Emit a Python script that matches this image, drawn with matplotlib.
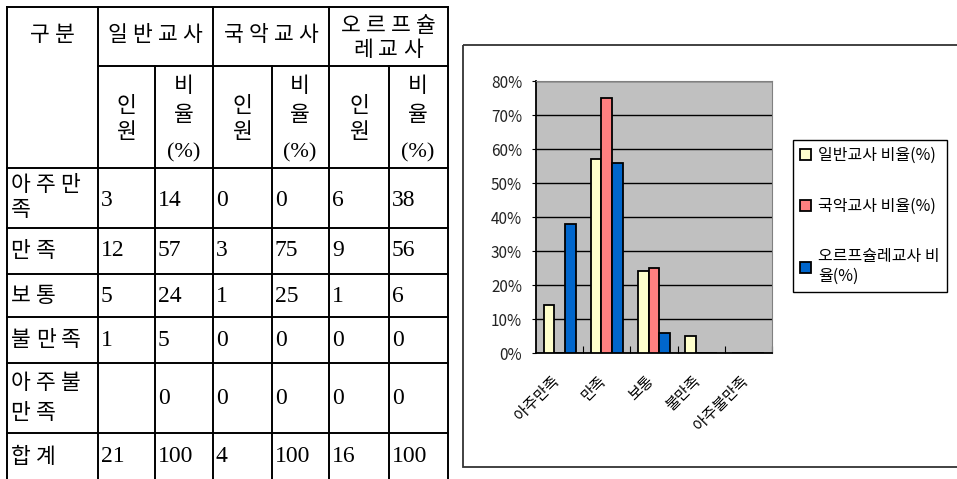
import matplotlib.pyplot as plt
import matplotlib.transforms as mtransforms
from matplotlib.patches import Rectangle
from matplotlib.ticker import PercentFormatter, FixedLocator

plt.rcParams['font.family'] = ['Noto Sans CJK KR', 'DejaVu Sans']

# chart data
categories = ["아주만족", "만족", "보통", "불만족", "아주불만족"]
general_pct = [14, 57, 24, 5, 0]
gugak_pct = [0, 75, 25, 0, 0]
orff_pct = [38, 56, 6, 0, 0]
series_labels = ["일반교사 비율(%)", "국악교사 비율(%)", "오르프슐레교사 비\n율(%)"]
series_colors = ["#FFFFCC", "#FF8080", "#0066CC"]

# table data
row_labels = ["아주만\n족", "만족", "보통", "불만족", "아주불\n만족", "합계"]
general_n = ["3", "12", "5", "1", "", "21"]
general_r = ["14", "57", "24", "5", "0", "100"]
gugak_n = ["0", "3", "1", "0", "0", "4"]
gugak_r = ["0", "75", "25", "0", "0", "100"]
orff_n = ["6", "9", "1", "0", "0", "16"]
orff_r = ["38", "56", "6", "0", "0", "100"]

W, H = 957, 479
fig = plt.figure(figsize=(W / 100, H / 100), dpi=100)

# background axes in pixel coords for the table and the chart frame
bg = fig.add_axes([0, 0, 1, 1])
bg.set_xlim(0, W)
bg.set_ylim(H, 0)
bg.axis('off')

STEP = 25  # character advance in px, the table font is widely spaced
hfs = 15.5


def spaced(x, y, s, ha='left'):
    """draw korean text char by char with wide spacing"""
    n = len(s)
    if ha == 'center':
        x0 = x - (n - 1) * STEP / 2
    else:
        x0 = x + STEP / 2 - 1
    for i, ch in enumerate(s):
        bg.text(x0 + i * STEP, y, ch, ha='center', va='center', fontsize=hfs)


cols = [7, 98, 155, 213, 272, 329, 389, 448]
rows = [7, 66, 168, 228, 274, 317, 363, 433, 482]
lw = 1.4
for y in rows[2:]:
    bg.plot([cols[0], cols[-1]], [y, y], color='black', lw=lw)
bg.plot([cols[0], cols[-1]], [rows[0], rows[0]], color='black', lw=lw)
bg.plot([cols[1], cols[-1]], [rows[1], rows[1]], color='black', lw=lw)
for i, x in enumerate(cols):
    top = rows[0] if i in (0, 1, 3, 5, 7) else rows[1]
    bg.plot([x, x], [top, rows[-1]], color='black', lw=lw)

spaced(52, 35, "구분", 'center')
spaced(155, 35, "일반교사", 'center')
spaced(271, 35, "국악교사", 'center')
spaced(388, 26, "오르프슐", 'center')
spaced(388, 50, "레교사", 'center')
for cx in (126, 242, 359):
    bg.text(cx, 106, "인", ha='center', va='center', fontsize=hfs)
    bg.text(cx, 132, "원", ha='center', va='center', fontsize=hfs)
for cx in (184, 300, 418):
    bg.text(cx, 86, "비", ha='center', va='center', fontsize=hfs)
    bg.text(cx, 115, "율", ha='center', va='center', fontsize=hfs)
    bg.text(cx, 153, "(%)", ha='center', va='center', fontsize=16,
            family=['Liberation Serif', 'Noto Sans CJK KR'])

label_y = [(185, 210), 251, 296, 340, (383, 413), 457]
num_y = [200, 251, 296, 340, 398, 457]
for i, lab in enumerate(row_labels):
    ys = label_y[i]
    parts = lab.split("\n")
    if not isinstance(ys, tuple):
        ys = (ys,)
    for p, yy in zip(parts, ys):
        spaced(9, yy, p)
    for j, col in enumerate([general_n, general_r, gugak_n, gugak_r, orff_n, orff_r]):
        bg.text(cols[j + 1] + 3, num_y[i], col[i], ha='left', va='center',
                fontsize=17, family=['Liberation Serif', 'DejaVu Serif'])

# chart frame
bg.add_patch(Rectangle((463, 45), 520, 422, fill=False, edgecolor='#333333', lw=1.3))

# bar chart
ax = fig.add_axes([536 / W, 1 - 353 / H, (772 - 536) / W, (353 - 81) / H])
ax.set_facecolor('#C0C0C0')
x = range(len(categories))
bw = 0.225
bars = []
for k, vals in enumerate([general_pct, gugak_pct, orff_pct]):
    b = ax.bar([i + (k - 1) * bw for i in x], vals, width=bw, color=series_colors[k],
               edgecolor='black', linewidth=1.3, label=series_labels[k], zorder=3)
    bars.append(b)
ax.set_xlim(-0.5, len(categories) - 0.5)
ax.set_ylim(0, 80)
ax.set_yticks(range(0, 81, 10))
ax.yaxis.set_major_formatter(PercentFormatter(decimals=0))
ax.grid(axis='y', color='black', lw=1, zorder=1)
ax.tick_params(axis='y', labelsize=11, labelcolor='#222222', length=3, pad=7)
ax.xaxis.set_major_locator(FixedLocator([i + 0.5 for i in range(len(categories))]))
ax.set_xticks(list(x), minor=True)
ax.set_xticklabels(categories, minor=True, rotation=45, ha='right',
                   rotation_mode='anchor', fontsize=11)
ax.tick_params(axis='x', which='major', direction='in', length=5, labelbottom=False)
ax.tick_params(axis='x', which='minor', length=0, pad=14)
# nudge the slanted labels a bit to the left, like the original
shift = mtransforms.ScaledTranslation(-9 / 100, 0, fig.dpi_scale_trans)
for lbl in ax.get_xticklabels(minor=True):
    lbl.set_transform(lbl.get_transform() + shift)
for s in ('top', 'right'):
    ax.spines[s].set_color('#808080')
for s in ('left', 'bottom'):
    ax.spines[s].set_color('black')
    ax.spines[s].set_linewidth(1.3)

leg = ax.legend(handles=bars, loc='upper left', bbox_to_anchor=(793 / W, 1 - 140 / H),
                bbox_transform=fig.transFigure, fontsize=11.5, frameon=True, fancybox=False,
                framealpha=1, edgecolor='black', borderaxespad=0, labelspacing=2.1,
                handlelength=0.7, handleheight=0.7, handletextpad=0.4, borderpad=0.45)
leg.get_frame().set_linewidth(1.0)

fig.savefig('out.png', dpi=100)
